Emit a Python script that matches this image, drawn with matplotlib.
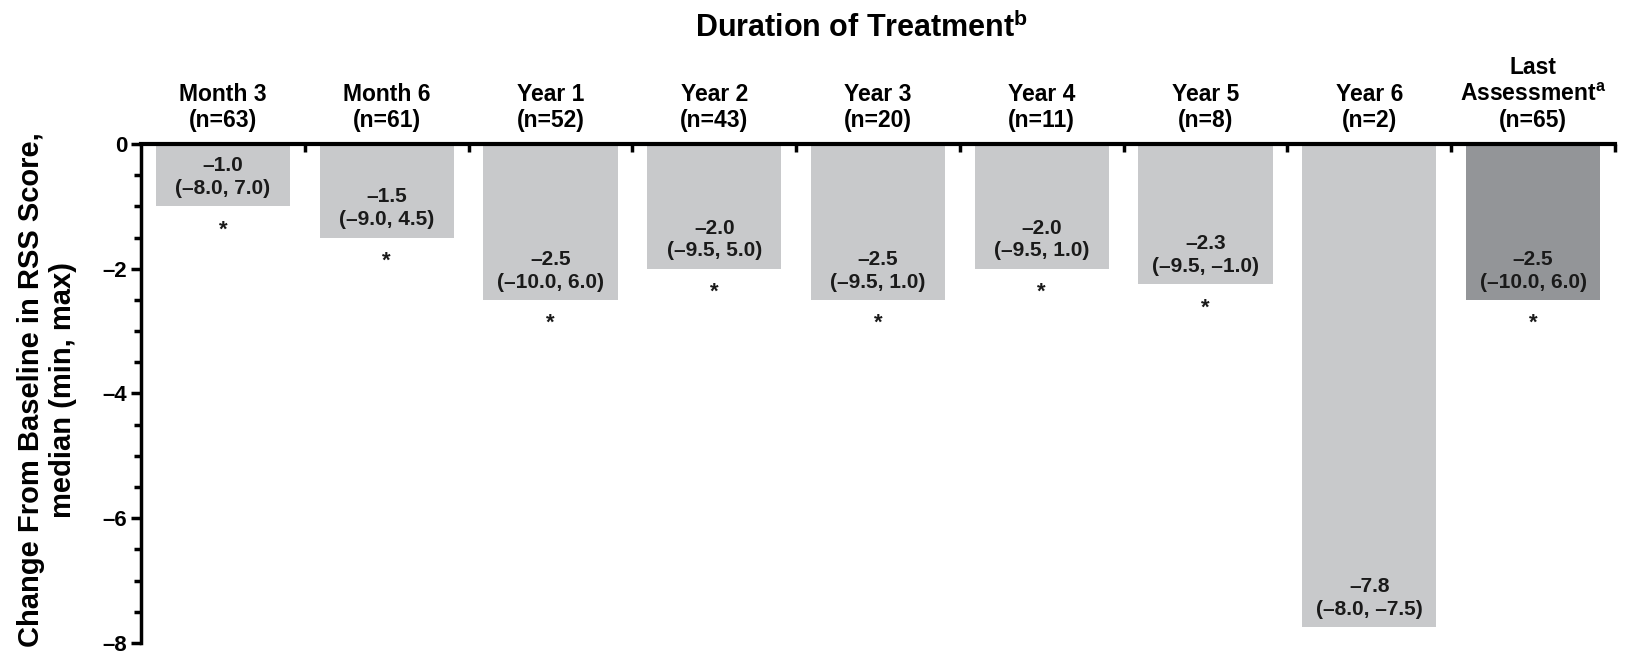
"""
Median change from baseline in RSS score by treatment duration.
"""
import numpy as np
import matplotlib
matplotlib.use("Agg")
import matplotlib.pyplot as plt
from matplotlib import font_manager
from matplotlib.ticker import MultipleLocator, FixedLocator

plt.rcParams['font.family'] = ['Liberation Sans', 'DejaVu Sans']
plt.rcParams['mathtext.fontset'] = 'custom'
plt.rcParams['mathtext.rm'] = 'Liberation Sans:bold'

# narrow face for the in-bar labels, if the system has it
names = {f.name for f in font_manager.fontManager.ttflist}
narrow = 'Liberation Sans Narrow' if 'Liberation Sans Narrow' in names else None

# data
categories = ["Month 3", "Month 6", "Year 1", "Year 2", "Year 3",
              "Year 4", "Year 5", "Year 6", "Last\nAssessment$^{\\mathregular{a}}$"]
n_counts = [63, 61, 52, 43, 20, 11, 8, 2, 65]
medians = [-1.0, -1.5, -2.5, -2.0, -2.5, -2.0, -2.25, -7.75, -2.5]
median_labels = ["\u20131.0", "\u20131.5", "\u20132.5", "\u20132.0", "\u20132.5",
                 "\u20132.0", "\u20132.3", "\u20137.8", "\u20132.5"]
range_labels = ["(\u20138.0, 7.0)", "(\u20139.0, 4.5)", "(\u201310.0, 6.0)",
                "(\u20139.5, 5.0)", "(\u20139.5, 1.0)", "(\u20139.5, 1.0)",
                "(\u20139.5, \u20131.0)", "(\u20138.0, \u20137.5)", "(\u201310.0, 6.0)"]
significant = [True, True, True, True, True, True, True, False, True]
yticks = [0, -2, -4, -6, -8]

light = "#c8c9cb"
dark = "#939598"

fig = plt.figure(figsize=(16.3, 6.54), dpi=100)
ax = fig.add_axes([141 / 1630, 1 - 643 / 654, (1615 - 141) / 1630, (643 - 144) / 654])

x = np.arange(len(categories)) + 0.5
colors = [light] * (len(categories) - 1) + [dark]
ax.bar(x, medians, width=0.82, color=colors, zorder=1)

if narrow:
    val_font = dict(family=[narrow, 'Liberation Sans'], fontsize=18)
else:
    val_font = dict(fontsize=15)

for xi, m, ml, rl, sig in zip(x, medians, median_labels, range_labels, significant):
    ax.annotate(ml + "\n" + rl, (xi, m), xytext=(0, 6), textcoords="offset points",
                ha="center", va="bottom", fontweight="bold",
                linespacing=1.1 if narrow else 1.25, color="#1a1a1a", **val_font)
    if sig:
        ax.annotate("*", (xi, m), xytext=(0, -21), textcoords="offset points",
                    ha="center", va="baseline", fontsize=16, fontweight="bold",
                    color="#1a1a1a")

ax.set_xlim(0, len(categories))
ax.set_ylim(-8, 0)

# category labels on top
xlabels = [f"{c}\n(n={n})" for c, n in zip(categories, n_counts)]
ax.xaxis.tick_top()
ax.set_xticks(x)
ax.set_xticklabels(xlabels, fontsize=16.5, fontweight="bold", linespacing=1.2)
ax.tick_params(axis="x", which="major", length=0, pad=8.5)
ax.xaxis.set_minor_locator(FixedLocator(np.arange(1, len(categories) + 1)))
ax.tick_params(axis="x", which="minor", direction="in", length=6, width=2.5, top=True)

ax.set_yticks(yticks)
ax.set_yticklabels([str(t).replace("-", "\u2013") for t in yticks],
                   fontsize=16, fontweight="bold")
ax.yaxis.set_minor_locator(MultipleLocator(0.5))
ax.tick_params(axis="y", which="major", length=7, width=2.5, pad=3)
ax.tick_params(axis="y", which="minor", length=5, width=2.5)

for s in ["right", "bottom"]:
    ax.spines[s].set_visible(False)
ax.spines["left"].set_linewidth(2.5)
ax.spines["top"].set_linewidth(3)

if narrow:
    ylab_font = dict(family=[narrow, 'Liberation Sans'], fontsize=25.5)
else:
    ylab_font = dict(fontsize=21)
fig.text(47 / 1630, 1 - 390 / 654, "Change From Baseline in RSS Score,\nmedian (min, max)",
         rotation=90, ha="center", va="center", fontweight="bold",
         linespacing=1.0 if narrow else 1.15, **ylab_font)
fig.text(862 / 1630, 1 - 28 / 654, "Duration of Treatment$^{\\mathregular{b}}$",
         ha="center", va="center", fontsize=22, fontweight="bold")

fig.savefig("out.png", dpi=100)
